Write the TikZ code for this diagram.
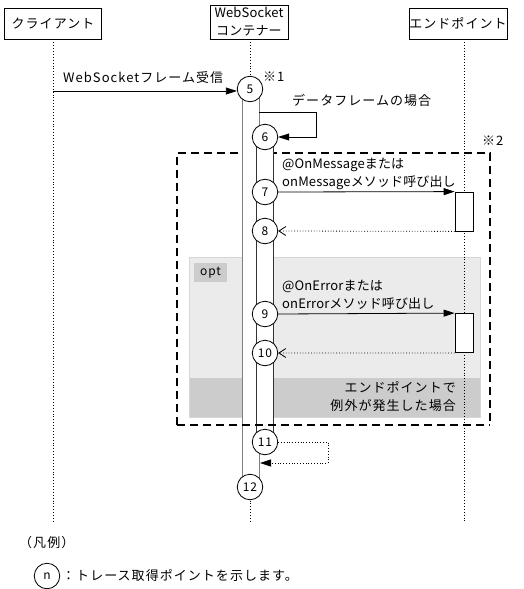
\documentclass[tikz,border=0pt]{standalone}
\usepackage{fontspec}
\setmainfont{Noto Sans CJK JP}[LetterSpace=8]
\usetikzlibrary{arrows.meta}
\definecolor{optfill}{HTML}{EBEBEB}
\definecolor{optband}{HTML}{CCCCCC}
\definecolor{barline}{HTML}{808080}
\begin{document}
\begin{tikzpicture}[x=1pt,y=-1pt,
  every node/.style={font=\fontsize{13}{18}\selectfont, inner sep=0pt},
  tight/.style={font=\fontsize{13}{18}\selectfont\addfontfeature{LetterSpace=1}},
  headbox/.style={draw, fill=white, line width=0.8pt, minimum height=31pt, align=center},
  lifeline/.style={line width=0.9pt, dotted},
  tp/.style={circle, draw, fill=white, line width=0.8pt, minimum size=25.5pt, font=\fontsize{12}{14}\selectfont},
  outerbar/.style={draw=barline, fill=white, line width=0.9pt},
  innerbar/.style={draw=black!80, fill=white, line width=0.9pt},
  epbox/.style={draw, fill=white, line width=0.8pt, minimum width=18pt, minimum height=39pt},
  msg/.style={line width=0.8pt, -{Triangle[length=11pt,width=7pt]}},
  ret/.style={line width=0.8pt, dotted, -{Straight Barb[length=7pt,width=9pt]}},
  lbl/.style={anchor=west},
  frame/.style={dashed, dash pattern=on 8pt off 5pt, line width=1.1pt},
]
\useasboundingbox (0,0) rectangle (523,589);

% opt fragment background
\fill[optfill] (189,257) rectangle (480,417);
\fill[optband] (189,378) rectangle (480,417);
\draw[optband!80!white, line width=0.6pt] (189,257) rectangle (480,417);
\node[fill=optband, minimum width=33pt, minimum height=19pt, font=\fontsize{12}{14}\selectfont] (opttag) at (210.5,272.5) {opt};
\node[anchor=east, align=right] (exc) at (456,397) {エンドポイントで\\例外が発生した場合};

% header boxes
\node[headbox, minimum width=97pt] (cl) at (53,23.5) {クライアント};
\node[headbox, tight, minimum width=78pt, minimum height=34pt] (wc) at (249,22) {WebSocket\\コンテナー};
\node[headbox, minimum width=98pt] (ep) at (458,23.5) {エンドポイント};

% lifelines
\coordinate (clbot) at (53,522);
\coordinate (wcbot) at (250,522);
\coordinate (eptop) at (464,39);
\coordinate (epbot) at (464,522);
\draw[lifeline] (cl.south) -- (clbot);
\draw[lifeline] (wc.south -| wcbot) -- (wcbot);
\draw[lifeline] (eptop) -- (epbot);

% dashed frame (top/sides behind bars)
\draw[frame] (177,425) -- (177,153) -- (490,153) -- (490,425);

% activation bars
\draw[outerbar] (242,89) rectangle (259,487);
\draw[innerbar] (256,136) rectangle (273,441);
\draw[frame] (177,425) -- (490,425);

% endpoint activations
\node[epbox] (ep1) at (464,211.5) {};
\node[epbox] (ep2) at (464,333) {};

% trace points
\node[tp] (c5) at (250,89) {5};
\node[tp] (c6) at (265,137) {6};
\node[tp] (c7) at (265,192) {7};
\node[tp] (c8) at (265,231) {8};
\node[tp] (c9) at (265,314) {9};
\node[tp] (c10) at (265,353) {10};
\node[tp] (c11) at (265,442) {11};
\node[tp] (c12) at (250,487) {12};

\node[lbl] (n1) at (263,77) {※1};
\node[lbl] (n2) at (482,141) {※2};

% messages
\coordinate (m5s) at (53,91);
\draw[msg] (m5s) -- (c5.west |- m5s);
\node[lbl] (l5) at (63,78) {WebSocketフレーム受信};

\coordinate (loopA) at (259,112);
\coordinate (loopB) at (316,112);
\coordinate (loopC) at (316,137);
\draw[msg] (loopA) -- (loopB) -- (loopC) -- (c6.east);
\node[lbl] (l6) at (292,101) {データフレームの場合};

\draw[msg] (c7.east) -- (ep1.north west);
\node[lbl, tight, align=left] (l7) at (282,174) {@OnMessageまたは\\onMessageメソッド呼び出し};
\draw[ret] (ep1.south west) -- (c8.east);

\draw[msg] (c9.east) -- (ep2.north west);
\node[lbl, tight, align=left] (l9) at (282,295) {@OnErrorまたは\\onErrorメソッド呼び出し};
\draw[ret] (ep2.south west) -- (c10.east);

\coordinate (loopD) at (328,442);
\coordinate (loopE) at (328,463);
\coordinate (loopF) at (260,463);
\draw[line width=0.8pt, dotted] (c11.east) -- (loopD) -- (loopE) -- ([xshift=8pt]loopF);
\draw[-{Triangle[length=11pt,width=7pt]}, line width=0.8pt] ([xshift=8pt]loopF) -- (loopF);

% legend
\node[lbl] (leg) at (19,543) {（凡例）};
\node[tp] (legc) at (47,576) {n};
\node[lbl] (legt) at (62,576) {：トレース取得ポイントを示します。};
\end{tikzpicture}
\end{document}
